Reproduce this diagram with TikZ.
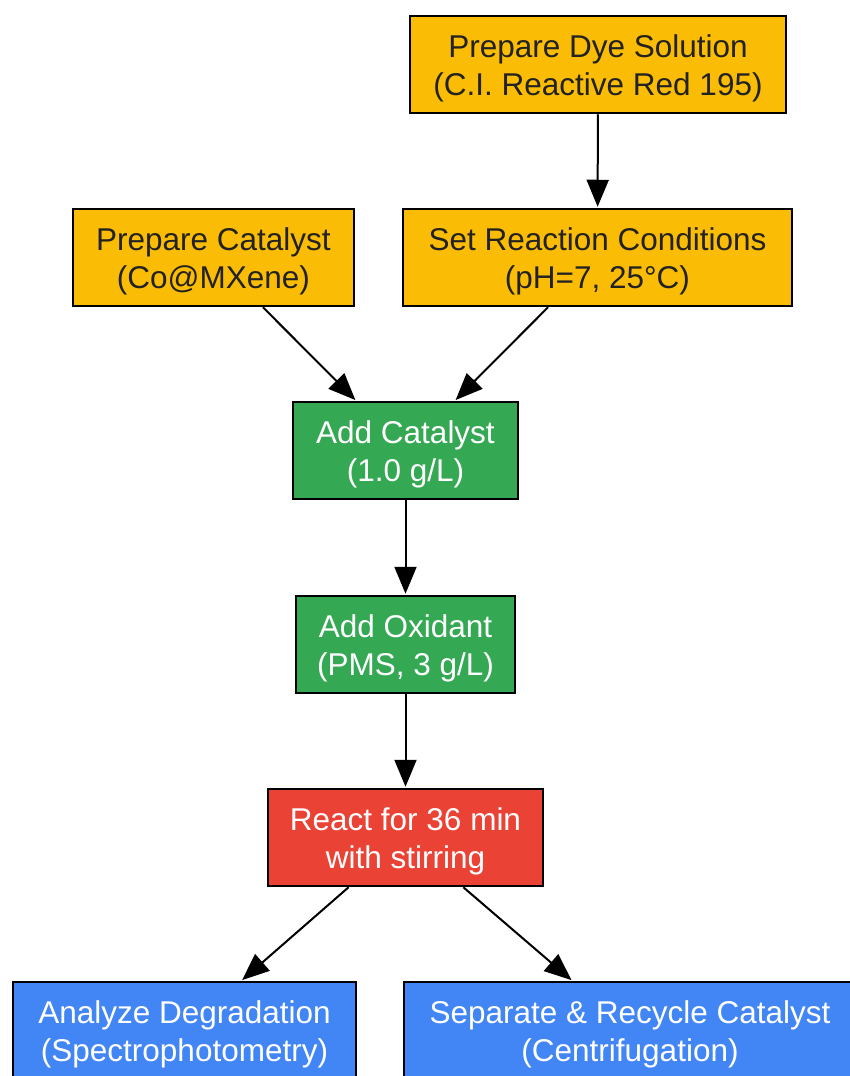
\documentclass[tikz,border=0pt]{standalone}
\usepackage{fontspec}
\setmainfont{Liberation Sans}
\usetikzlibrary{arrows.meta}
\definecolor{gyellow}{HTML}{FBBC05}
\definecolor{ggreen}{HTML}{34A853}
\definecolor{gred}{HTML}{EA4335}
\definecolor{gblue}{HTML}{4285F4}
\definecolor{darktext}{HTML}{222222}
\newcommand{\tstrut}{\rule{0pt}{31pt}}
\tikzset{
  box/.style={draw=black, line width=2.5pt, inner sep=0pt, minimum height=97pt, align=center,
    font=\fontsize{31.5}{38.4}\selectfont},
  ybox/.style={box, fill=gyellow, text=darktext},
  gbox/.style={box, fill=ggreen, text=white},
  rbox/.style={box, fill=gred, text=white},
  bbox/.style={box, fill=gblue, text=white},
  conn/.style={draw=black, line width=2pt, -{Triangle[length=27pt,width=22pt]}, shorten >=1pt}
}
\begin{document}
\begin{tikzpicture}[x=1pt,y=-1pt]
\useasboundingbox[fill=white] (0,0) rectangle (849,1076);
\node[ybox, minimum width=376pt] (dye) at (598,64.5) {\tstrut Prepare Dye Solution\\(C.I. Reactive Red 195)};
\node[ybox, minimum width=281pt] (cat) at (213.5,257.5) {\tstrut Prepare Catalyst\\(Co@MXene)};
\node[ybox, minimum width=389pt] (cond) at (597.5,257.5) {\tstrut Set Reaction Conditions\\(pH=7, 25°C)};
\node[gbox, minimum width=225pt] (addcat) at (405.5,450.5) {\tstrut Add Catalyst\\(1.0 g/L)};
\node[gbox, minimum width=219pt] (addox) at (405.5,644.5) {\tstrut Add Oxidant\\(PMS, 3 g/L)};
\node[rbox, minimum width=275pt] (react) at (405.5,837.5) {\tstrut React for 36 min\\with stirring};
\node[bbox, minimum width=343pt] (ana) at (184.5,1030.5) {\tstrut Analyze Degradation\\(Spectrophotometry)};
\node[bbox, minimum width=452pt] (sep) at (630,1030.5) {\tstrut Separate \& Recycle Catalyst\\(Centrifugation)};
\draw[conn] (dye) -- (cond);
\draw[conn] (cat) -- (addcat);
\draw[conn] (cond) -- (addcat);
\draw[conn] (addcat) -- (addox);
\draw[conn] (addox) -- (react);
\draw[conn] (react) -- (ana);
\draw[conn] (react) -- (sep);
\end{tikzpicture}
\end{document}
